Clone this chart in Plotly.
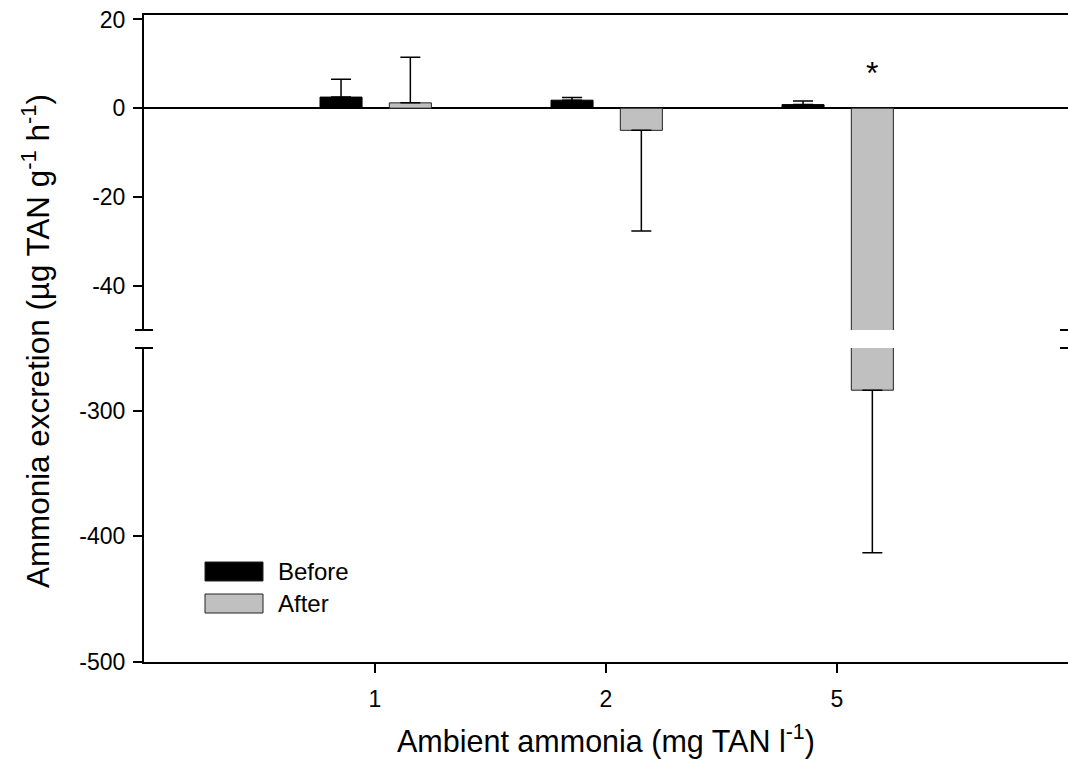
import plotly.graph_objects as go

# ---- data ----
categories = ["1", "2", "5"]
before_vals = [2.5, 1.8, 0.8]
before_err = [4.0, 0.6, 0.8]
after_vals = [1.2, -5.0, -283.6]
after_err_up = [10.3, 0, 0]
after_err_down = [0, 22.7, 129.4]
upper_ticks = [20, 0, -20, -40]
lower_ticks = [-300, -400, -500]

FONT = "Liberation Sans, Arial, sans-serif"
TICK_FONT = "Liberation Sans Narrow, Arial Narrow, Liberation Sans, Arial, sans-serif"
BAR_W = 0.182
OFF_B = -0.238
OFF_A = 0.062
GRAY = "#c0c0c0"
TICK_SIZE = 23

fig = go.Figure()


def add_bars(xa, ya):
    fig.add_trace(go.Bar(
        x=categories, y=before_vals, width=BAR_W, offset=OFF_B,
        marker=dict(color="black", line=dict(color="black", width=1)),
        error_y=dict(type="data", symmetric=False, array=before_err,
                     arrayminus=[0, 0, 0], color="black", thickness=1.5, width=10),
        xaxis=xa, yaxis=ya, showlegend=False))
    fig.add_trace(go.Bar(
        x=categories, y=after_vals, width=BAR_W, offset=OFF_A,
        marker=dict(color=GRAY, line=dict(color="#222222", width=1)),
        error_y=dict(type="data", symmetric=False, array=after_err_up,
                     arrayminus=after_err_down, color="black", thickness=1.5, width=10),
        xaxis=xa, yaxis=ya, showlegend=False))


add_bars("x", "y")    # lower panel
add_bars("x2", "y2")  # upper panel

up_lo = (662 - 330) / 647
lo_hi = (662 - 348) / 647

axis_common = dict(showline=True, linecolor="black", linewidth=2,
                   ticks="outside", ticklen=9, tickwidth=2, tickcolor="black",
                   showgrid=False, zeroline=False,
                   tickfont=dict(family=TICK_FONT, size=TICK_SIZE, color="black"))

fig.update_layout(
    width=1068, height=776,
    margin=dict(l=144, r=0, t=15, b=114),
    plot_bgcolor="white", paper_bgcolor="white",
    barmode="overlay",
    font=dict(family=FONT, color="black"),
    xaxis=dict(anchor="y", domain=[0, 1], range=[-1, 3], type="category",
               ticklabelstandoff=6, **axis_common),
    xaxis2=dict(anchor="y2", matches="x", side="top", showline=True,
                linecolor="black", linewidth=2, showticklabels=False,
                ticks="", showgrid=False, zeroline=False, type="category",
                range=[-1, 3]),
    yaxis=dict(anchor="x", domain=[0, lo_hi], range=[-500, -250],
               tickmode="array", tickvals=lower_ticks,
               ticktext=[str(v) for v in lower_ticks],
               ticklabelstandoff=3, **axis_common),
    yaxis2=dict(anchor="x2", domain=[up_lo, 1], range=[-50, 21],
                tickmode="array", tickvals=upper_ticks,
                ticktext=[str(v) for v in upper_ticks],
                ticklabelstandoff=3,
                **{**axis_common, "zeroline": True}),
)
fig.update_layout(yaxis2_zerolinecolor="black", yaxis2_zerolinewidth=2)

# break marks
for yv in (up_lo, lo_hi):
    fig.add_shape(type="line", xref="paper", yref="paper",
                  x0=-9 / 924, x1=9 / 924, y0=yv, y1=yv,
                  line=dict(color="black", width=2))
    fig.add_shape(type="line", xref="paper", yref="paper",
                  x0=(1060 - 144) / 924, x1=1.02, y0=yv, y1=yv,
                  line=dict(color="black", width=2))

# significance star
fig.add_annotation(x=2, y=8, xref="x2", yref="y2", xshift=0.153 * 231,
                   text="*", showarrow=False, yanchor="middle",
                   font=dict(family=FONT, size=32, color="black"))

# axis titles
fig.add_annotation(xref="paper", yref="paper", x=(606 - 144) / 924,
                   y=-(740 - 662) / 647, xanchor="center", yanchor="middle",
                   text="Ambient ammonia (mg TAN l<sup>-1</sup>)", showarrow=False,
                   font=dict(family=FONT, size=30.5, color="black"))
fig.add_annotation(xref="paper", yref="paper", x=(36 - 144) / 924,
                   y=(662 - 341) / 647, xanchor="center", yanchor="middle",
                   text="Ammonia excretion (µg TAN g<sup>-1</sup> h<sup>-1</sup>)",
                   textangle=-90, showarrow=False,
                   font=dict(family=FONT, size=31.4, color="black"))


# legend
def px_x(p):
    return (p - 144) / 924


def px_y(p):
    return (662 - p) / 647


for (y0, y1, col, label) in [(562, 581, "black", "Before"), (594, 613, GRAY, "After")]:
    fig.add_shape(type="rect", xref="paper", yref="paper",
                  x0=px_x(205), x1=px_x(263), y0=px_y(y1), y1=px_y(y0),
                  fillcolor=col, line=dict(color="#222222", width=1))
    fig.add_annotation(xref="paper", yref="paper", x=px_x(276), y=px_y((y0 + y1) / 2),
                       xanchor="left", yanchor="middle", text=label, showarrow=False,
                       font=dict(family=FONT, size=24, color="black"))

fig.write_html("out.html")
